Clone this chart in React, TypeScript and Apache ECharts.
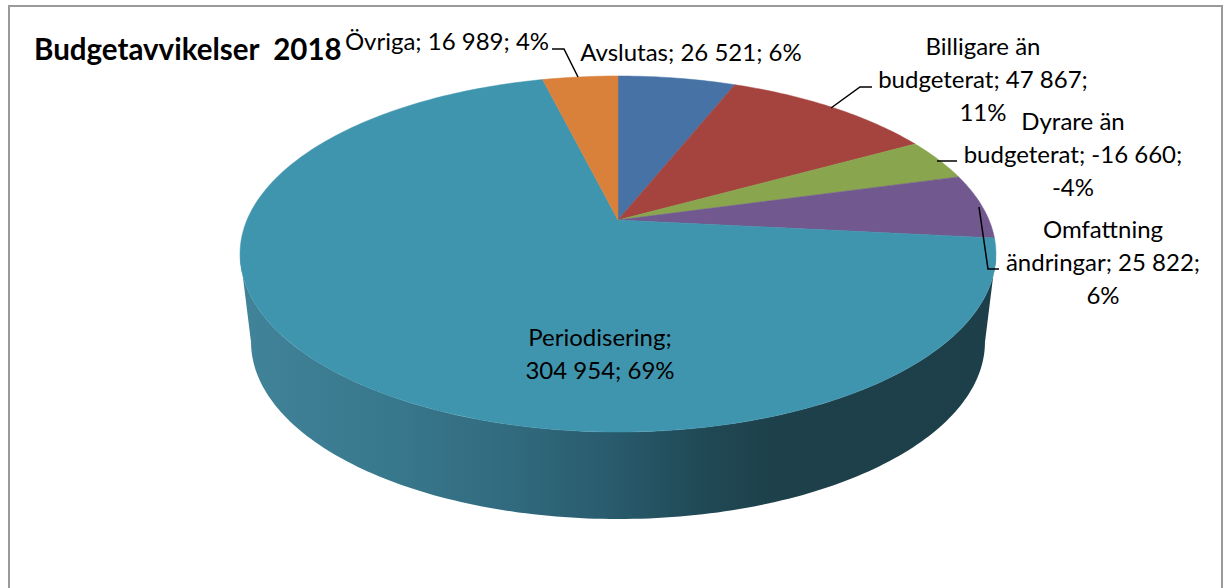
import React, { useEffect, useRef } from "react";
import * as echarts from "echarts";

const categories = ["Avslutas", "Billigare än budgeterat", "Dyrare än budgeterat", "Omfattning ändringar", "Periodisering", "Övriga"];
const amounts = [26521, 47867, 16660, 25822, 304954, 16989];
const sliceColors = ["#4672a6", "#a5443f", "#89a54e", "#71588f", "#4095ae", "#d9803a"];
const labelTexts = [
  "Avslutas; 26 521; 6%",
  "Billigare än\nbudgeterat; 47 867;\n11%",
  "Dyrare än\nbudgeterat; -16 660;\n-4%",
  "Omfattning\nändringar; 25 822;\n6%",
  "Periodisering;\n304 954; 69%",
  "Övriga; 16 989; 4%",
];
const labelCenters = [
  [691, 51],
  [983, 78],
  [1073, 153],
  [1103, 261],
  [600, 353],
  [447, 40],
];
const leaderLines = [
  null,
  [[872, 87], [860, 87], [831, 108]],
  [[957, 161], [937, 161]],
  [[999, 269], [988, 269], [979, 207]],
  null,
  [[552, 49], [564, 49], [578, 77]],
];
const chartTitle = "Budgetavvikelser  2018";

// Perspective projection of the pie disc
const CX = 618;
const APEX_Y = 220;
const PERSP = 0.191;
const SLOPE = -129.5;
const RADIUS = 371;
const ELL_CY = 254;
const ELL_RX = 378;
const ELL_RY = 178;
const LOW_CY = 342;
const LOW_RX = 367;
const LOW_RY = 177;

const total = amounts.reduce((a, b) => a + b, 0);
const starts: number[] = [];
amounts.reduce((acc, v) => {
  starts.push(acc);
  return acc + v;
}, 0);
const toAngle = (v: number) => (v / total) * Math.PI * 2;

function top(theta: number): number[] {
  const u = Math.sin(theta);
  const v = Math.cos(theta);
  const w = 1 + PERSP * v;
  return [CX + (RADIUS * u) / w, (APEX_Y + SLOPE * v) / w];
}
function low(p: number[]): number[] {
  return [CX + ((p[0] - CX) * LOW_RX) / ELL_RX, LOW_CY + ((p[1] - ELL_CY) * LOW_RY) / ELL_RY];
}
function arc(a: number, b: number, fn: (t: number) => number[]): number[][] {
  const n = Math.max(2, Math.ceil(((b - a) / Math.PI) * 180));
  const pts: number[][] = [];
  for (let i = 0; i <= n; i++) pts.push(fn(a + ((b - a) * i) / n));
  return pts;
}

const frontStart = Math.acos(-PERSP);
const frontEnd = Math.PI * 2 - frontStart;

export default function App() {
  const ref = useRef<HTMLDivElement>(null);
  useEffect(() => {
    document.body.style.margin = "0";
    const chart = echarts.init(ref.current!, undefined, { renderer: "svg" });
    const font = "Lato";
    chart.setOption({
      animation: false,
      backgroundColor: "#ffffff",
      title: {
        text: chartTitle,
        left: 34,
        top: 33,
        padding: 0,
        textStyle: { fontFamily: font, fontWeight: "bold", fontSize: 29.5, color: "#000000" },
      },
      graphic: [
        {
          type: "rect",
          silent: true,
          z: -1,
          shape: { x: 9, y: 6, width: 1213, height: 640 },
          style: { fill: "#ffffff", stroke: "#9a9a9a", lineWidth: 2 },
        },
      ],
      series: [
        {
          type: "custom",
          coordinateSystem: "none",
          silent: true,
          z: 2,
          data: amounts.map((v, i) => ({ name: categories[i], value: v })),
          renderItem: (params: any) => {
            const i = params.dataIndex;
            const a = toAngle(starts[i]);
            const b = toAngle(starts[i] + amounts[i]);
            const wa = Math.max(a, frontStart);
            const wb = Math.min(b, frontEnd);
            const children: any[] = [];
            if (wb > wa) {
              const rimT = arc(wa, wb, top);
              const lowPts = rimT.map(low);
              const rx = CX + LOW_RX;
              const lx = CX - LOW_RX;
              const points = [...rimT, [lx, LOW_CY], ...lowPts.slice().reverse(), [rx, LOW_CY]];
              children.push({
                type: "polygon",
                shape: { points },
                style: {
                  fill: new echarts.graphic.LinearGradient(0, 0, 1, 0, [
                    { offset: 0, color: "#418399" },
                    { offset: 0.2, color: "#38788d" },
                    { offset: 0.35, color: "#326b7f" },
                    { offset: 0.5, color: "#285a6b" },
                    { offset: 0.62, color: "#204854" },
                    { offset: 0.72, color: "#1d404a" },
                    { offset: 1, color: "#1d3f4a" },
                  ]),
                },
              });
            }
            const points = [[CX, APEX_Y], ...arc(a, b, top)];
            children.push({
              type: "polygon",
              shape: { points },
              style: { fill: sliceColors[i], stroke: sliceColors[i], lineWidth: 0.5 },
            });
            return { type: "group", children };
          },
        },
        {
          type: "custom",
          coordinateSystem: "none",
          silent: true,
          z: 3,
          data: labelTexts,
          renderItem: (params: any) => {
            const i = params.dataIndex;
            const children: any[] = [];
            const leader = leaderLines[i];
            if (leader) {
              children.push({
                type: "polyline",
                shape: { points: leader },
                style: { stroke: "#000000", lineWidth: 1.5, fill: "none" },
              });
            }
            children.push({
              type: "text",
              style: {
                text: labelTexts[i],
                x: labelCenters[i][0],
                y: labelCenters[i][1],
                align: "center",
                verticalAlign: "middle",
                lineHeight: 33,
                fontFamily: font,
                fontSize: 24,
                fill: "#000000",
              },
            });
            return { type: "group", children };
          },
        },
      ],
    });
    return () => chart.dispose();
  }, []);
  return <div ref={ref} style={{ position: "absolute", left: 0, top: 0, width: 1224, height: 588 }} />;
}
